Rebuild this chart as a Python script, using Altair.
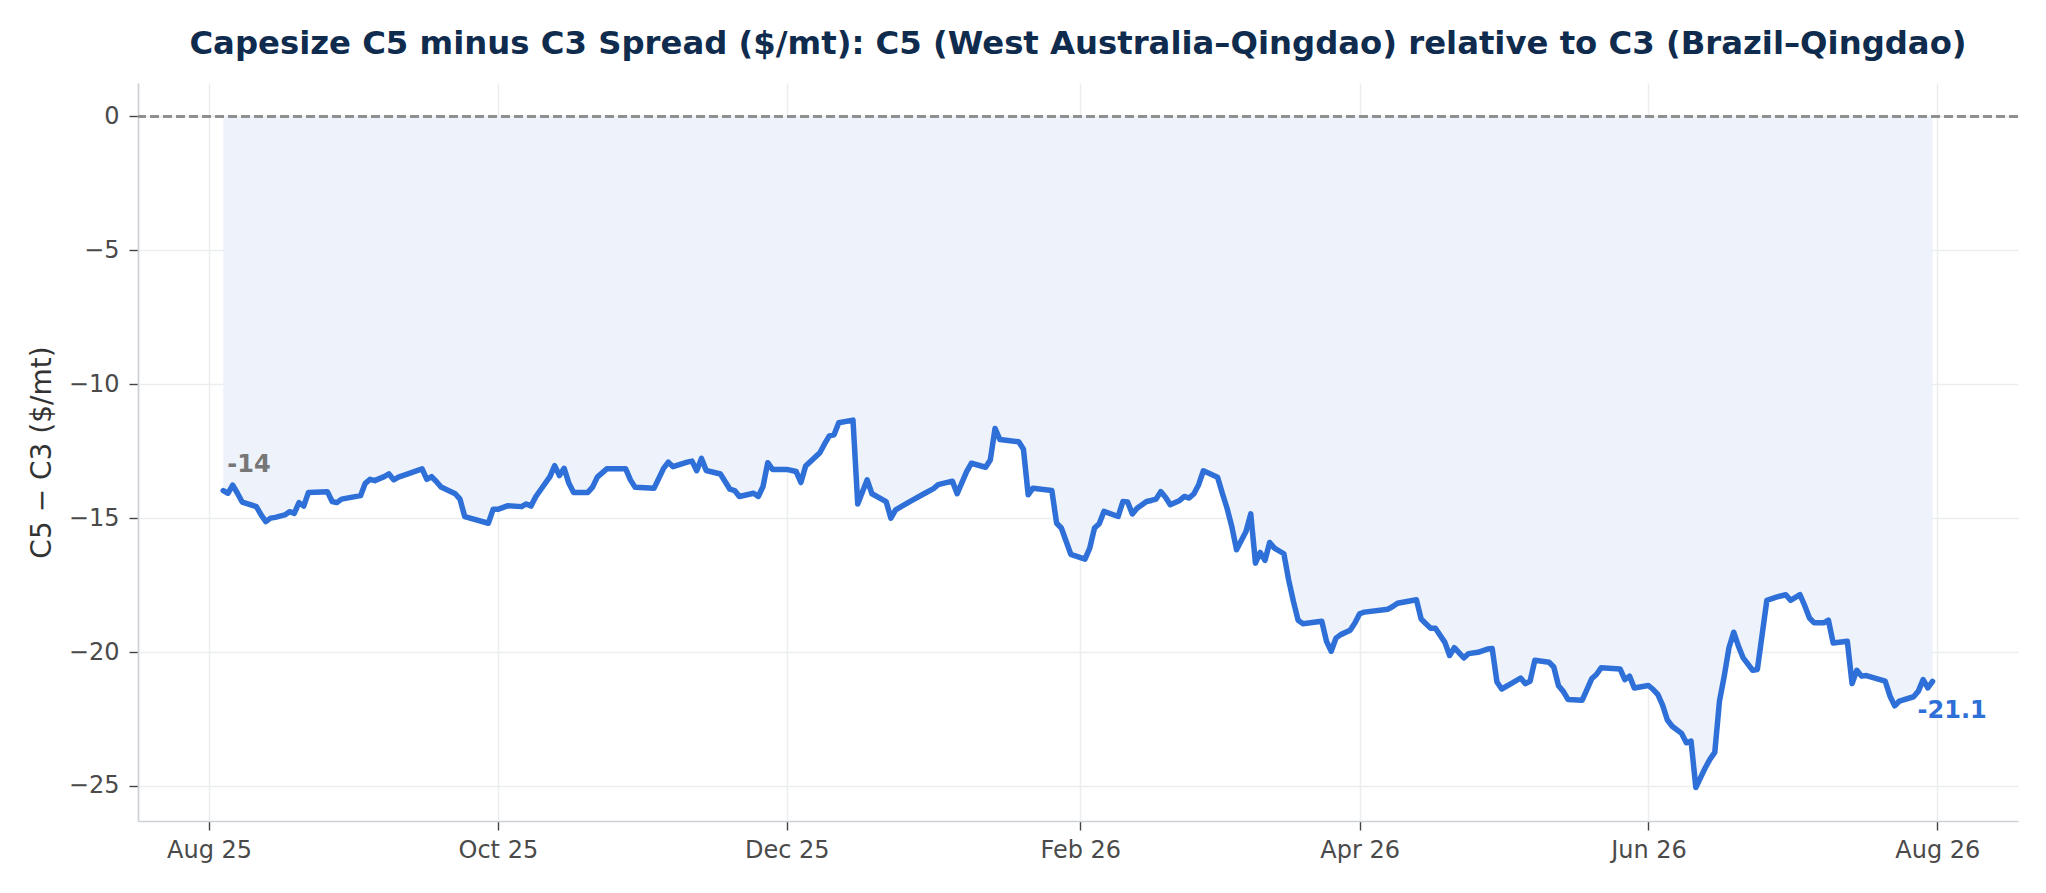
import altair as alt
import pandas as pd

FONT = "DejaVu Sans"
LINE_COLOR = "#2e6fd8"

# ---- data (vertices of the spread line) ----
dates = [
    "2025-08-04", "2025-08-05", "2025-08-06", "2025-08-07", "2025-08-08", "2025-08-11", "2025-08-12",
    "2025-08-13", "2025-08-14", "2025-08-15", "2025-08-17", "2025-08-18", "2025-08-19", "2025-08-20",
    "2025-08-21", "2025-08-22", "2025-08-26", "2025-08-27", "2025-08-28", "2025-08-29", "2025-09-02",
    "2025-09-03", "2025-09-04", "2025-09-05", "2025-09-07", "2025-09-08", "2025-09-09", "2025-09-10",
    "2025-09-12", "2025-09-15", "2025-09-16", "2025-09-17", "2025-09-18", "2025-09-19", "2025-09-22",
    "2025-09-23", "2025-09-24", "2025-09-29", "2025-09-30", "2025-10-01", "2025-10-03", "2025-10-06",
    "2025-10-07", "2025-10-08", "2025-10-09", "2025-10-10", "2025-10-12", "2025-10-13", "2025-10-14",
    "2025-10-15", "2025-10-16", "2025-10-17", "2025-10-20", "2025-10-21", "2025-10-22", "2025-10-24",
    "2025-10-28", "2025-10-29", "2025-10-30",
    "2025-11-03", "2025-11-05", "2025-11-06", "2025-11-07", "2025-11-10", "2025-11-11", "2025-11-12",
    "2025-11-13", "2025-11-14", "2025-11-17", "2025-11-19", "2025-11-20", "2025-11-21", "2025-11-24",
    "2025-11-25", "2025-11-26", "2025-11-27", "2025-11-28", "2025-12-01", "2025-12-03", "2025-12-04",
    "2025-12-05", "2025-12-06", "2025-12-08", "2025-12-09", "2025-12-10", "2025-12-11", "2025-12-12",
    "2025-12-15", "2025-12-16", "2025-12-18", "2025-12-19", "2025-12-22", "2025-12-23", "2025-12-24",
    "2025-12-27", "2025-12-30", "2026-01-01", "2026-01-02", "2026-01-05", "2026-01-06", "2026-01-08",
    "2026-01-09", "2026-01-12", "2026-01-13", "2026-01-14", "2026-01-15", "2026-01-19", "2026-01-20",
    "2026-01-21", "2026-01-22", "2026-01-26", "2026-01-27", "2026-01-28", "2026-01-30",
    "2026-02-02", "2026-02-03", "2026-02-04", "2026-02-05", "2026-02-06", "2026-02-09", "2026-02-10",
    "2026-02-11", "2026-02-12", "2026-02-13", "2026-02-15", "2026-02-16", "2026-02-17", "2026-02-18",
    "2026-02-19", "2026-02-20", "2026-02-22", "2026-02-23", "2026-02-24", "2026-02-25", "2026-02-26",
    "2026-02-27", "2026-03-02", "2026-03-03", "2026-03-04", "2026-03-05", "2026-03-06", "2026-03-08",
    "2026-03-09", "2026-03-10", "2026-03-11", "2026-03-12", "2026-03-13", "2026-03-14", "2026-03-16",
    "2026-03-17", "2026-03-18", "2026-03-19", "2026-03-20", "2026-03-24", "2026-03-25", "2026-03-26",
    "2026-03-27", "2026-03-28", "2026-03-30", "2026-03-31", "2026-04-01", "2026-04-02", "2026-04-07",
    "2026-04-08", "2026-04-09", "2026-04-13", "2026-04-14", "2026-04-15", "2026-04-16", "2026-04-17",
    "2026-04-19", "2026-04-20", "2026-04-21", "2026-04-23", "2026-04-24", "2026-04-26", "2026-04-28",
    "2026-04-29", "2026-04-30",
    "2026-05-01", "2026-05-03", "2026-05-05", "2026-05-06", "2026-05-07", "2026-05-08", "2026-05-11",
    "2026-05-12", "2026-05-13", "2026-05-14", "2026-05-15", "2026-05-18", "2026-05-19", "2026-05-20",
    "2026-05-21", "2026-05-22", "2026-05-26", "2026-05-27", "2026-05-28", "2026-05-29", "2026-06-01",
    "2026-06-02", "2026-06-03", "2026-06-04", "2026-06-05", "2026-06-06", "2026-06-08", "2026-06-09",
    "2026-06-10", "2026-06-11", "2026-06-12", "2026-06-13", "2026-06-14", "2026-06-15", "2026-06-16",
    "2026-06-17", "2026-06-18", "2026-06-19", "2026-06-20", "2026-06-21", "2026-06-23", "2026-06-24",
    "2026-06-26", "2026-06-28", "2026-06-30", "2026-07-01", "2026-07-03", "2026-07-04", "2026-07-05",
    "2026-07-06", "2026-07-08", "2026-07-09", "2026-07-10", "2026-07-13", "2026-07-14", "2026-07-15",
    "2026-07-16", "2026-07-17", "2026-07-21", "2026-07-22", "2026-07-23", "2026-07-24", "2026-07-27",
    "2026-07-28", "2026-07-29", "2026-07-30", "2026-07-31",
]

spread = [
    -13.97, -14.07, -13.77, -14.07, -14.40, -14.57, -14.88,
    -15.13, -15.00, -14.97, -14.88, -14.76, -14.82, -14.42,
    -14.55, -14.04, -14.01, -14.38, -14.42, -14.29, -14.16,
    -13.70, -13.55, -13.60, -13.45, -13.35, -13.57, -13.47,
    -13.35, -13.16, -13.55, -13.45, -13.63, -13.84, -14.09,
    -14.29, -14.94, -15.19, -14.67, -14.67, -14.54, -14.57,
    -14.47, -14.55, -14.20, -13.95, -13.45, -13.04, -13.41,
    -13.14, -13.70, -14.04, -14.04, -13.84, -13.47, -13.16,
    -13.16, -13.57, -13.85,
    -13.88, -13.14, -12.91, -13.08, -12.91, -12.87, -13.23,
    -12.77, -13.22, -13.35, -13.92, -13.97, -14.19, -14.07,
    -14.19, -13.82, -12.93, -13.18, -13.18, -13.26, -13.67,
    -13.05, -12.89, -12.56, -12.23, -11.93, -11.89, -11.44,
    -11.34, -14.47, -13.57, -14.09, -14.38, -15.00, -14.69,
    -14.38, -14.09, -13.90, -13.75, -13.62, -14.09, -13.26,
    -12.95, -13.10, -12.83, -11.65, -12.06, -12.15, -12.43,
    -14.13, -13.88, -13.97, -15.19, -15.37, -16.35,
    -16.53, -16.12, -15.37, -15.21, -14.75, -14.94, -14.38,
    -14.40, -14.84, -14.63, -14.38, -14.34, -14.29, -14.01,
    -14.22, -14.50, -14.34, -14.19, -14.25, -14.09, -13.75,
    -13.23, -13.47, -14.07, -14.63, -15.31, -16.18, -15.50,
    -14.84, -16.68, -16.28, -16.58, -15.91, -16.12, -16.33,
    -17.30, -18.10, -18.81, -18.94, -18.85, -19.60, -19.97,
    -19.48, -19.35, -19.19, -18.92, -18.57, -18.51, -18.40,
    -18.30, -18.18, -18.05, -18.77, -18.94, -19.11, -19.11,
    -19.64, -20.13, -19.84, -20.22, -20.06, -20.01, -19.89,
    -19.87, -21.12,
    -21.38, -21.18, -20.97, -21.18, -21.09, -20.31, -20.38,
    -20.56, -21.26, -21.47, -21.77, -21.80, -21.40, -21.00,
    -20.84, -20.59, -20.63, -21.03, -20.90, -21.34, -21.25,
    -21.40, -21.59, -21.99, -22.54, -22.77, -23.04, -23.39,
    -23.33, -25.06, -24.69, -24.32, -24.00, -23.75, -21.83,
    -20.90, -19.84, -19.26, -19.78, -20.22, -20.68, -20.65,
    -18.07, -17.95, -17.86, -18.07, -17.86, -18.27, -18.73,
    -18.91, -18.91, -18.81, -19.66, -19.60, -21.18, -20.68,
    -20.90, -20.88, -21.09, -21.64, -22.01, -21.83, -21.67,
    -21.46, -21.03, -21.34, -21.10,
]

x_tick_dates = [(2025, 8), (2025, 10), (2025, 12), (2026, 2), (2026, 4), (2026, 6), (2026, 8)]
y_ticks = [0, -5, -10, -15, -20, -25]
start_label = ["-14"]
end_label = ["-21.1"]

TITLE = "Capesize C5 minus C3 Spread ($/mt): C5 (West Australia\u2013Qingdao) relative to C3 (Brazil\u2013Qingdao)"
Y_TITLE = "C5 \u2212 C3 ($/mt)"

df = pd.DataFrame({"date": dates, "spread": spread})
first = pd.DataFrame({"date": [dates[0]], "spread": [spread[0]], "label": start_label})
last = pd.DataFrame({"date": [dates[-1]], "spread": [spread[-1]], "label": end_label})

x_enc = alt.X(
    "date:T",
    scale=alt.Scale(
        type="utc",
        domain=[
            alt.DateTime(year=2025, month=7, date=17, utc=True),
            alt.DateTime(year=2026, month=8, date=18, hours=1, utc=True),
        ],
    ),
    axis=alt.Axis(
        values=[alt.DateTime(year=y, month=m, date=1, utc=True) for y, m in x_tick_dates],
        format="%b %y",
        title=None,
        grid=True,
        labelFlush=False,
        labelPadding=8,
    ),
)
y_enc = alt.Y(
    "spread:Q",
    scale=alt.Scale(domain=[-26.31, 1.25], nice=False, zero=False),
    axis=alt.Axis(
        values=y_ticks,
        grid=True,
        title=Y_TITLE,
        titleFontSize=28,
        titleFontWeight="normal",
        titleColor="#333333",
        titleAngle=270,
        titleAlign="center",
        titleBaseline="alphabetic",
        titleX=-88,
        titleY=369,
        labelPadding=10,
    ),
)

base = alt.Chart(df)
area = base.mark_area(color="#edf2fb", opacity=1).encode(x=x_enc, y=y_enc, y2=alt.datum(0))
zero = base.mark_rule(color="#8f8f8f", strokeDash=[9, 4], strokeWidth=1.5).encode(y=alt.datum(0))
line = base.mark_line(color=LINE_COLOR, strokeWidth=5.5, strokeJoin="round", strokeCap="round").encode(
    x=x_enc, y=y_enc
)
t_first = alt.Chart(first).mark_text(
    align="left", baseline="alphabetic", dx=4, dy=-19, fontSize=24, fontWeight="bold",
    color="#777777", font=FONT,
).encode(x="date:T", y="spread:Q", text="label:N")
t_last = alt.Chart(last).mark_text(
    align="left", baseline="alphabetic", dx=-15, dy=37, fontSize=24, fontWeight="bold",
    color=LINE_COLOR, font=FONT,
).encode(x="date:T", y="spread:Q", text="label:N")

chart = (
    alt.layer(area, zero, line, t_first, t_last)
    .properties(
        width=1880,
        height=738,
        autosize=alt.AutoSizeParams(type="none"),
        padding={"left": 130, "top": 75, "right": 20, "bottom": 57},
        title=alt.Title(
            TITLE, fontSize=32.3, fontWeight="bold", color="#0f2b4d", font=FONT,
            anchor="middle", baseline="alphabetic", offset=30, dy=33,
        ),
    )
    .configure_view(stroke=None)
    .configure_axis(
        gridColor="#ebedf0",
        gridWidth=1.5,
        domainColor="#cdd1d6",
        domainWidth=1.7,
        tickColor="#444444",
        tickWidth=1.4,
        tickSize=9,
        labelFont=FONT,
        labelFontSize=24,
        labelColor="#4a4a4a",
        titleFont=FONT,
    )
)

chart.save("out.html", embed_options={"renderer": "svg", "actions": False})
